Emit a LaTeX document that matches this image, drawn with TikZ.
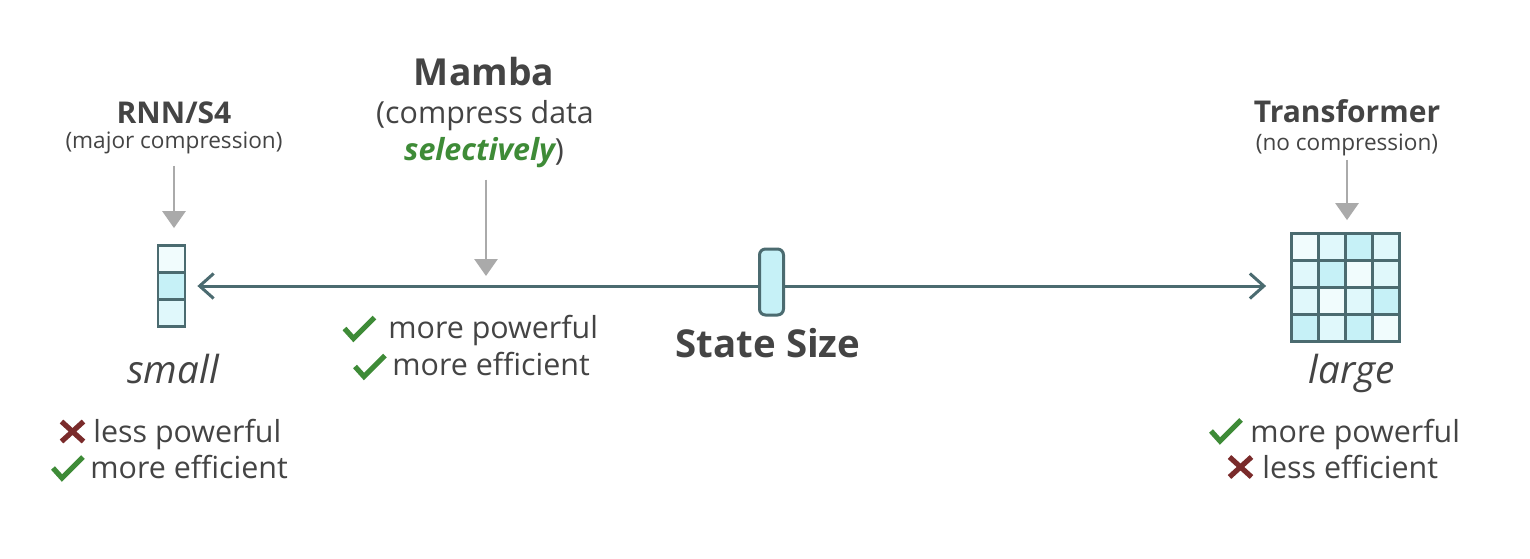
\documentclass[tikz,border=0pt]{standalone}
\usepackage{fontspec}
\setmainfont{Open Sans}
\usepackage{tikz}
\usetikzlibrary{positioning,arrows.meta}

\definecolor{txtgray}{HTML}{444444}
\definecolor{okgreen}{HTML}{3E8B37}
\definecolor{badred}{HTML}{7A2B2B}
\definecolor{ptrgray}{HTML}{AAAAAA}
\definecolor{axisteal}{HTML}{4B6B70}
\definecolor{cellA}{HTML}{F1FCFD}
\definecolor{cellB}{HTML}{E0F8FB}
\definecolor{cellC}{HTML}{C6F1F7}

\begin{document}
\begin{tikzpicture}[x=0.5pt, y=-0.5pt,
    txt/.style={text=txtgray, inner sep=0pt, anchor=base, font=\fontsize{15.2}{18}\selectfont},
    model/.style={txt, font=\bfseries\fontsize{15}{18}\selectfont},
    note/.style={txt, font=\fontsize{11.3}{13}\selectfont},
    size word/.style={txt, font=\itshape\fontsize{19.3}{22}\selectfont},
    big word/.style={txt, font=\bfseries\fontsize{18.6}{22}\selectfont},
    state box/.style={inner sep=0pt, minimum width=13.5pt},
    cell/.style={draw=axisteal, line width=1.1pt},
    pointer/.style={draw=ptrgray, line width=1.4pt, -{Triangle[length=8.5pt, width=11.5pt, fill=ptrgray]}},
    axis line/.style={draw=axisteal, line width=1.5pt, {Straight Barb[length=7pt, width=12.5pt]}-{Straight Barb[length=7pt, width=12.5pt]}},
    knob/.style={draw=axisteal, fill=cellC, line width=1.5pt, rounded corners=3pt,
        minimum width=12pt, minimum height=33pt, inner sep=0pt},
    yes/.pic={\draw[okgreen, line width=2.6pt] (-15,0) -- (-6,10) -- (15,-11);},
    no/.pic={\draw[badred, line width=2.6pt] (-11,-10) -- (11,10) (-11,10) -- (11,-10);}]

  \fill[white] (0,0) rectangle (1530,558);

  % State blocks
  \node[state box, minimum height=40.5pt] (smallstate) at (171.5,286) {};
  \foreach \r/\c in {0/cellA, 1/cellC, 2/cellB}
    \draw[cell, fill=\c] (158,{245.5+27*\r}) rectangle ++(27,27);

  \node[state box, minimum width=54pt, minimum height=54pt] (bigstate) at (1345.5,287.5) {};
  \foreach \r/\k/\c in {0/0/cellA, 0/1/cellB, 0/2/cellC, 0/3/cellB,
                        1/0/cellB, 1/1/cellC, 1/2/cellA, 1/3/cellB,
                        2/0/cellB, 2/1/cellA, 2/2/cellB, 2/3/cellC,
                        3/0/cellC, 3/1/cellB, 3/2/cellC, 3/3/cellA}
    \draw[cell, fill=\c] ({1291.5+27*\k},{233.5+27*\r}) rectangle ++(27,27);

  % Axis with knob
  \coordinate (mambapt) at (486,286);
  \draw[axis line, shorten <=6pt, shorten >=12.5pt] (smallstate.east) -- (smallstate.east -| bigstate.west);
  \node[knob] (slider) at (771.5,282) {};
  \node[big word, font=\bfseries\fontsize{19.2}{22}\selectfont] (statesize) at (768,357) {State Size};

  % Left: RNN/S4
  \node[model] (rnn) at (174,123) {RNN/S4};
  \node[note] (rnnsub) at (174,148) {(major compression)};
  \node[size word] (small) at (173,383) {small};
  \pic at (72.5,431.5) {no};
  \node[txt, anchor=base west] (rnnpow) at (93,442) {less powerful};
  \pic at (68,468) {yes};
  \node[txt, anchor=base west] (rnneff) at (90,478) {more efficient};

  % Middle: Mamba
  \node[big word] (mamba) at (484,85) {Mamba};
  \node[txt] (mambasub) at (485,123) {(compress data};
  \node[txt] (mambasel) at (484,160) {\textcolor{okgreen}{\bfseries\itshape selectively})};
  \pic at (359.5,328.5) {yes};
  \node[txt, anchor=base west] (mambapow) at (388,338) {more powerful};
  \pic at (370,366.5) {yes};
  \node[txt, anchor=base west] (mambaeff) at (392,375) {more efficient};

  % Right: Transformer
  \node[model] (tfm) at (1347,122) {Transformer};
  \node[note] (tfmsub) at (1347,150) {(no compression)};
  \node[size word] (large) at (1352,383) {large};
  \pic at (1226,431) {yes};
  \node[txt, anchor=base west] (tfmpow) at (1250,442) {more powerful};
  \pic at (1240.5,467) {no};
  \node[txt, anchor=base west] (tfmeff) at (1262,478) {less efficient};

  % Pointers
  \draw[pointer, shorten <=6pt, shorten >=8.5pt] (rnnsub) -- (rnnsub |- smallstate.north);
  \draw[pointer, shorten <=6pt, shorten >=5pt] (mambasel.south -| mambapt) -- (mambapt);
  \draw[pointer, shorten <=2pt, shorten >=6.5pt] (tfmsub) -- (tfmsub |- bigstate.north);
\end{tikzpicture}
\end{document}
